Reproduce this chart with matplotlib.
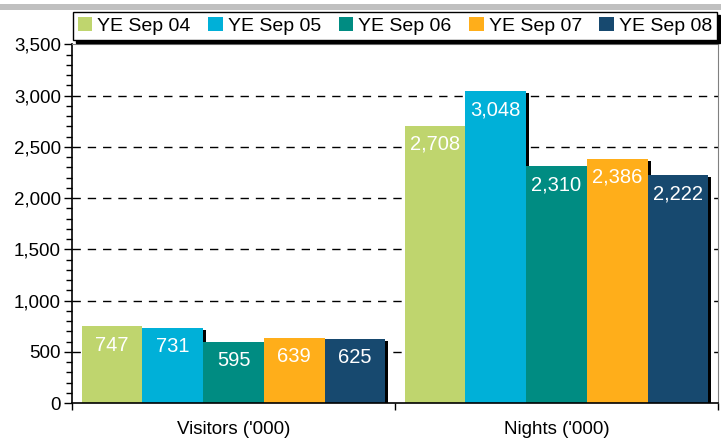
import numpy as np
import matplotlib.pyplot as plt
import matplotlib.transforms as mtransforms
from matplotlib.patches import Rectangle

plt.rcParams['font.family'] = ['Liberation Sans', 'DejaVu Sans']

categories = ["Visitors ('000)", "Nights ('000)"]
series = ['YE Sep 04', 'YE Sep 05', 'YE Sep 06', 'YE Sep 07', 'YE Sep 08']
values = [
    [747, 2708],
    [731, 3048],
    [595, 2310],
    [639, 2386],
    [625, 2222],
]
colors = ['#BFD56E', '#00B0D8', '#008C82', '#FFAE1A', '#17496F']

fig = plt.figure(figsize=(7.21, 4.38), dpi=100)
ax = fig.add_axes([72 / 721, 35 / 438, 646 / 721, 358.5 / 438])

# gray strip at the top of the picture
fig.patches.append(Rectangle((0, 1 - 10 / 438), 1, 6 / 438, transform=fig.transFigure,
                             facecolor='#C0C0C0', edgecolor='none'))

x = np.arange(len(categories))
w = 0.188
shadow = ax.transData + mtransforms.ScaledTranslation(3 / 100, -2 / 100, fig.dpi_scale_trans)
handles = []
for i, (name, vals, c) in enumerate(zip(series, values, colors)):
    pos = x + (i - 2) * w
    ax.bar(pos, vals, w, color='black', edgecolor='none', transform=shadow, zorder=2)
    b = ax.bar(pos, vals, w, color=c, edgecolor='none', zorder=3, label=name)
    handles.append(b)
    for px, v in zip(pos, vals):
        ax.annotate('{:,}'.format(v), (px, v), xytext=(0, -13.5), textcoords='offset points',
                    ha='center', va='center', color='white', fontsize=14.5, zorder=4)

ax.set_xlim(-0.5, 1.5)
ax.set_ylim(0, 3500)
ax.set_yticks(np.arange(0, 3501, 500))
ax.set_yticks(np.arange(0, 3501, 100), minor=True)
ax.yaxis.set_major_formatter(plt.FuncFormatter(lambda v, p: '{:,.0f}'.format(v)))
ax.tick_params(axis='y', which='major', length=6, width=1, labelsize=13.5, pad=2)
ax.tick_params(axis='y', which='minor', length=4, width=1)

ax.set_xticks([-0.5, 0.5, 1.5])
ax.set_xticklabels([])
ax.set_xticks(x, minor=True)
ax.set_xticklabels(categories, minor=True)
ax.tick_params(axis='x', which='major', length=5, width=1)
ax.tick_params(axis='x', which='minor', length=0, labelsize=13.5, pad=13)

for yv in np.arange(500, 3500, 500):
    ax.axhline(yv, color='black', linestyle=(0, (6, 5)), linewidth=1, zorder=1)

ax.spines['left'].set_linewidth(1.2)
ax.spines['bottom'].set_linewidth(1.2)
ax.spines['bottom'].set_zorder(5)
for s in ['top', 'right']:
    ax.spines[s].set_color('#808080')
    ax.spines[s].set_linewidth(0.8)

leg = fig.legend(handles=handles, labels=series, loc='lower left', ncol=5, mode='expand',
                 bbox_to_anchor=(73 / 721, 1 - 40 / 438, 644 / 721, 27 / 438),
                 fontsize=14, frameon=True, fancybox=False, shadow={'color': 'black', 'alpha': 1},
                 handlelength=0.75, handleheight=0.75, handletextpad=0.25, borderpad=0.25,
                 borderaxespad=0, columnspacing=0.8)
leg.get_frame().set_edgecolor('black')
leg.get_frame().set_linewidth(1)

fig.savefig('out.png', dpi=100)
